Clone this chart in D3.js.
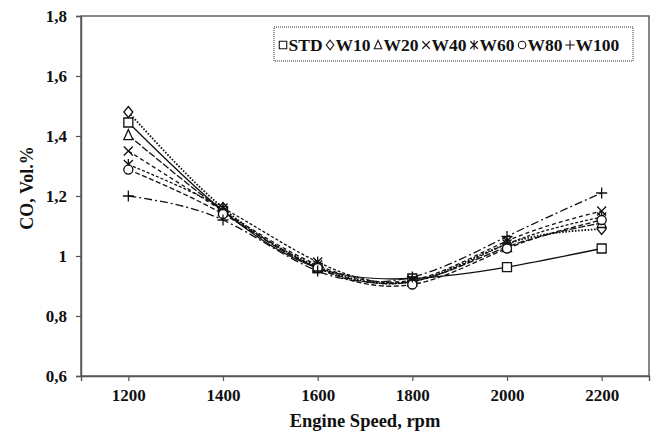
<!DOCTYPE html>
<html>
<head>
<meta charset="utf-8">
<script src="https://cdn.jsdelivr.net/npm/d3@7"></script>
<style>
  body { margin: 0; background: #fff; }
  text { font-family: "Liberation Serif", "Times New Roman", serif; font-weight: bold; fill: #111; }
</style>
</head>
<body>
<div id="chart"></div>
<script>
// engine speeds (rpm)
var speeds = [1200, 1400, 1600, 1800, 2000, 2200];

// CO, Vol.% for each fuel blend
var std  = [1.445, 1.15, 0.960, 0.925, 0.963, 1.025];
var w10  = [1.480, 1.16, 0.965, 0.915, 1.040, 1.090];
var w20  = [1.403, 1.15, 0.960, 0.915, 1.030, 1.110];
var w40  = [1.350, 1.15, 0.970, 0.920, 1.050, 1.150];
var w60  = [1.305, 1.16, 0.980, 0.915, 1.040, 1.130];
var w80  = [1.288, 1.14, 0.960, 0.905, 1.025, 1.120];
var w100 = [1.200, 1.12, 0.950, 0.930, 1.065, 1.210];

var seriesNames = ["STD", "W10", "W20", "W40", "W60", "W80", "W100"];
var yTicks = [0.6, 0.8, 1.0, 1.2, 1.4, 1.6, 1.8];

var series = [
  { name: "STD",  values: std,  symbol: "square",   dash: null },
  { name: "W10",  values: w10,  symbol: "diamond",  dash: "1.6,1.6" },
  { name: "W20",  values: w20,  symbol: "triangle", dash: "7,2" },
  { name: "W40",  values: w40,  symbol: "cross",    dash: "4,3" },
  { name: "W60",  values: w60,  symbol: "star",     dash: "3,2" },
  { name: "W80",  values: w80,  symbol: "circle",   dash: "5,2.5" },
  { name: "W100", values: w100, symbol: "plus",     dash: "8,3,2,3" }
];

var W = 656, H = 435;
var margin = { top: 16, right: 7, bottom: 59, left: 81 };

var svg = d3.select("#chart").append("svg")
    .attr("width", W)
    .attr("height", H);

var x = d3.scaleLinear().domain([1100, 2300]).range([margin.left, W - margin.right]);
var y = d3.scaleLinear().domain([0.6, 1.8]).range([H - margin.bottom, margin.top]);

var comma = d3.formatLocale({ decimal: ",", thousands: ".", grouping: [3], currency: ["", ""] }).format(".1~f");

// marker shapes, drawn around (0,0)
function symbolPath(type, s) {
  var p = d3.path();
  var h = s / 2;
  if (type === "square") {
    p.rect(-h, -h, s, s);
  } else if (type === "diamond") {
    p.moveTo(0, -h - 1); p.lineTo(h, 0); p.lineTo(0, h + 1); p.lineTo(-h, 0); p.closePath();
  } else if (type === "triangle") {
    p.moveTo(0, -h - 1); p.lineTo(h, h); p.lineTo(-h, h); p.closePath();
  } else if (type === "cross") {
    p.moveTo(-h, -h); p.lineTo(h, h); p.moveTo(h, -h); p.lineTo(-h, h);
  } else if (type === "star") {
    p.moveTo(-h, -h); p.lineTo(h, h); p.moveTo(h, -h); p.lineTo(-h, h);
    p.moveTo(0, -h - 1); p.lineTo(0, h + 1);
  } else if (type === "circle") {
    p.arc(0, 0, h, 0, 2 * Math.PI);
  } else if (type === "plus") {
    p.moveTo(-h - 1, 0); p.lineTo(h + 1, 0); p.moveTo(0, -h - 1); p.lineTo(0, h + 1);
  }
  return p.toString();
}

// plot frame
svg.append("rect")
    .attr("x", margin.left)
    .attr("y", margin.top)
    .attr("width", W - margin.right - margin.left)
    .attr("height", H - margin.bottom - margin.top)
    .attr("fill", "none")
    .attr("stroke", "#555")
    .attr("stroke-width", 1.4);

// axes
var yAxis = svg.append("g")
    .attr("transform", `translate(${margin.left},0)`)
    .call(d3.axisLeft(y).tickValues(yTicks).tickFormat(comma).tickSize(5).tickPadding(9));

var xAxis = svg.append("g")
    .attr("transform", `translate(0,${H - margin.bottom})`)
    .call(d3.axisBottom(x).tickValues(speeds).tickFormat(d3.format("d")).tickSize(5).tickPadding(8));

[xAxis, yAxis].forEach(function(g) {
  g.select(".domain").attr("stroke", "#555").attr("stroke-width", 1.4);
  g.selectAll(".tick line").attr("stroke", "#555").attr("stroke-width", 1.2);
  g.selectAll(".tick text")
      .style("font-family", "'Liberation Serif', serif")
      .style("font-weight", "bold")
      .style("font-size", "17px")
      .attr("fill", "#111");
});

// axis titles
svg.append("text")
    .attr("x", 365)
    .attr("y", 427)
    .attr("text-anchor", "middle")
    .style("font-size", "18.5px")
    .text("Engine Speed, rpm");

svg.append("text")
    .attr("transform", "translate(33,188) rotate(-90)")
    .attr("text-anchor", "middle")
    .style("font-size", "18px")
    .text("CO, Vol.%");

// lines
var line = d3.line()
    .x(d => x(d[0]))
    .y(d => y(d[1]))
    .curve(d3.curveNatural);

var lines = svg.append("g").attr("class", "lines");

series.forEach(function(s) {
  var pts = speeds.map((sp, i) => [sp, s.values[i]]);
  lines.append("path")
      .attr("d", line(pts))
      .attr("fill", "none")
      .attr("stroke", "#111")
      .attr("stroke-width", s.dash === "1.6,1.6" ? 1.8 : 1.3)
      .attr("stroke-dasharray", s.dash);
});

// markers
var markers = svg.append("g").attr("class", "markers");

series.forEach(function(s) {
  markers.selectAll(null)
      .data(speeds.map((sp, i) => [sp, s.values[i]]))
      .enter().append("path")
      .attr("transform", d => `translate(${x(d[0])},${y(d[1])})`)
      .attr("d", symbolPath(s.symbol, 9))
      .attr("fill", (s.symbol === "cross" || s.symbol === "star" || s.symbol === "plus") ? "none" : "#fff")
      .attr("stroke", "#111")
      .attr("stroke-width", 1.3);
});

// legend
var legend = svg.append("g").attr("class", "legend");

legend.append("rect")
    .attr("x", 274)
    .attr("y", 27)
    .attr("width", 359)
    .attr("height", 34)
    .attr("fill", "#fff")
    .attr("stroke", "#333")
    .attr("stroke-width", 1)
    .attr("stroke-dasharray", "1,1");

svg.append("clipPath").attr("id", "legclip")
    .append("rect").attr("x", 274).attr("y", 27).attr("width", 360).attr("height", 34);

var items = legend.append("g").attr("clip-path", "url(#legclip)");

var lx = 279;
series.forEach(function(s) {
  items.append("path")
      .attr("transform", `translate(${lx + 4},${45})`)
      .attr("d", symbolPath(s.symbol, 7.5))
      .attr("fill", "none")
      .attr("stroke", "#111")
      .attr("stroke-width", 1.1);
  var t = items.append("text")
      .attr("x", lx + 9.5)
      .attr("y", 51)
      .style("font-size", "17.5px")
      .text(s.name);
  lx += 9.5 + t.node().getComputedTextLength() + 3.5;
});
</script>
</body>
</html>
